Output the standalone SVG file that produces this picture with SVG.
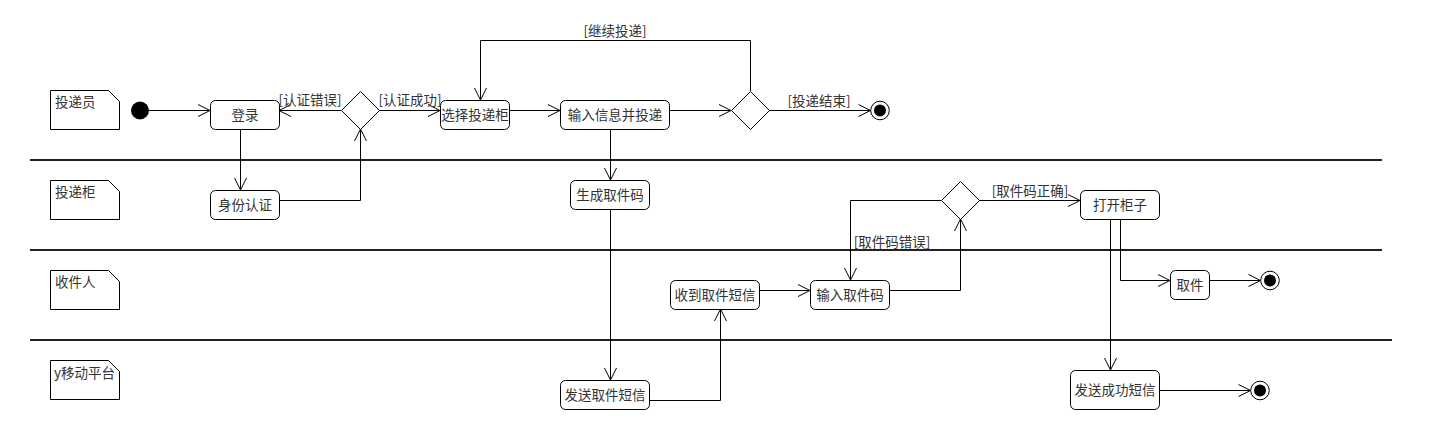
<svg xmlns="http://www.w3.org/2000/svg" width="1430" height="440" viewBox="0 0 1430 440">
<style>
text{font-family:"Noto Sans CJK SC","Liberation Sans",sans-serif;font-size:13.5px;fill:#333}
.c{text-anchor:middle}
.box{fill:#fff;stroke:#000;stroke-width:1}
.note{fill:#fff;stroke:#000;stroke-width:1}
.lane{stroke:#222;stroke-width:2;fill:none}
.e{fill:none;stroke:#000;stroke-width:1}
</style>
<defs>
<marker id="arr" viewBox="0 0 14 14" refX="13" refY="7" markerWidth="14" markerHeight="14" markerUnits="userSpaceOnUse" orient="auto">
<path d="M1,1 L13,7 L1,13" fill="none" stroke="#000" stroke-width="1"/>
</marker>
</defs>
<rect width="1430" height="440" fill="#fff"/>
<g id="lanes">
<line class="lane" x1="30" y1="160" x2="1382" y2="160"/>
<line class="lane" x1="30" y1="250" x2="1382" y2="250"/>
<line class="lane" x1="30" y1="340" x2="1392" y2="340"/>
</g>
<g id="note-courier"><path class="note" d="M50.5,90.5 H108.5 L119.5,101.5 V129.5 H50.5 Z"/><text x="55" y="107">投递员</text></g>
<g id="note-locker"><path class="note" d="M50.5,180.5 H108.5 L119.5,191.5 V219.5 H50.5 Z"/><text x="55" y="197">投递柜</text></g>
<g id="note-receiver"><path class="note" d="M50.5,270.5 H108.5 L119.5,281.5 V309.5 H50.5 Z"/><text x="55" y="287">收件人</text></g>
<g id="note-platform"><path class="note" d="M50.5,360.5 H108.5 L119.5,371.5 V399.5 H50.5 Z"/><text x="54" y="378">y移动平台</text></g>

<g id="connectors" class="e">
<path d="M149,110.5 H210" marker-end="url(#arr)"/>
<path d="M240.5,129 V190" marker-end="url(#arr)"/>
<path d="M279,200.5 H360.5 V129" marker-end="url(#arr)"/>
<path d="M341,110.5 H279" marker-end="url(#arr)"/>
<path d="M379,110.5 H440" marker-end="url(#arr)"/>
<path d="M509,110.5 H560" marker-end="url(#arr)"/>
<path d="M669,110.5 H731" marker-end="url(#arr)"/>
<path d="M750.5,91 V40.5 H480.5 V100" marker-end="url(#arr)"/>
<path d="M769,110.5 H870.5" marker-end="url(#arr)"/>
<path d="M610.5,129 V180" marker-end="url(#arr)"/>
<path d="M610.5,209 V380" marker-end="url(#arr)"/>
<path d="M649,400.5 H720.5 V309" marker-end="url(#arr)"/>
<path d="M759,290.5 H810" marker-end="url(#arr)"/>
<path d="M889,290.5 H960.5 V219" marker-end="url(#arr)"/>
<path d="M941,200.5 H850.5 V280" marker-end="url(#arr)"/>
<path d="M979,200.5 H1080" marker-end="url(#arr)"/>
<path d="M1120.5,219 V280.5 H1170" marker-end="url(#arr)"/>
<path d="M1110.5,219 V370" marker-end="url(#arr)"/>
<path d="M1209,280.5 H1260.5" marker-end="url(#arr)"/>
<path d="M1159,390.5 H1250.5" marker-end="url(#arr)"/>
</g>
<g id="edge-labels">
<text class="c" x="310" y="105">[认证错误]</text>
<text class="c" x="410" y="105">[认证成功]</text>
<text class="c" x="615" y="36">[继续投递]</text>
<text class="c" x="819" y="106">[投递结束]</text>
<text class="c" x="1030" y="196">[取件码正确]</text>
<text class="c" x="892" y="247">[取件码错误]</text>
</g>

<g id="start"><circle cx="140" cy="110.5" r="9" fill="#000"/></g>
<g id="login"><rect class="box" x="210.5" y="100.5" width="69" height="29" rx="5"/><text class="c" x="245" y="120">登录</text></g>
<g id="auth"><rect class="box" x="210.5" y="190.5" width="69" height="29" rx="5"/><text class="c" x="245" y="210">身份认证</text></g>
<g id="decision-auth"><path class="box" d="M360.5,91.5 L379.5,110.5 L360.5,129.5 L341.5,110.5 Z"/></g>
<g id="select-locker"><rect class="box" x="440.5" y="100.5" width="69" height="29" rx="5"/><text class="c" x="475" y="120">选择投递柜</text></g>
<g id="input-deliver"><rect class="box" x="560.5" y="100.5" width="109" height="29" rx="5"/><text class="c" x="615" y="120">输入信息并投递</text></g>
<g id="decision-continue"><path class="box" d="M750.5,91.5 L769.5,110.5 L750.5,129.5 L731.5,110.5 Z"/></g>
<g id="end1"><circle cx="880" cy="110.5" r="9.3" fill="#fff" stroke="#000"/><circle cx="880" cy="110.5" r="6" fill="#000"/></g>
<g id="gen-code"><rect class="box" x="570.5" y="180.5" width="79" height="29" rx="5"/><text class="c" x="610" y="200">生成取件码</text></g>
<g id="send-code-sms"><rect class="box" x="560.5" y="380.5" width="89" height="29" rx="5"/><text class="c" x="605" y="400">发送取件短信</text></g>
<g id="recv-sms"><rect class="box" x="670.5" y="280.5" width="89" height="29" rx="5"/><text class="c" x="715" y="300">收到取件短信</text></g>
<g id="input-code"><rect class="box" x="810.5" y="280.5" width="79" height="29" rx="5"/><text class="c" x="850" y="300">输入取件码</text></g>
<g id="decision-code"><path class="box" d="M960.5,181.5 L979.5,200.5 L960.5,219.5 L941.5,200.5 Z"/></g>
<g id="open-locker"><rect class="box" x="1080.5" y="190.5" width="79" height="29" rx="5"/><text class="c" x="1120" y="210">打开柜子</text></g>
<g id="pickup"><rect class="box" x="1170.5" y="270.5" width="39" height="29" rx="5"/><text class="c" x="1190" y="290">取件</text></g>
<g id="end2"><circle cx="1270" cy="280.5" r="9.3" fill="#fff" stroke="#000"/><circle cx="1270" cy="280.5" r="6" fill="#000"/></g>
<g id="send-success-sms"><rect class="box" x="1070.5" y="370.5" width="89" height="39" rx="5"/><text class="c" x="1115" y="395">发送成功短信</text></g>
<g id="end3"><circle cx="1260" cy="390.5" r="9.3" fill="#fff" stroke="#000"/><circle cx="1260" cy="390.5" r="6" fill="#000"/></g>
</svg>
